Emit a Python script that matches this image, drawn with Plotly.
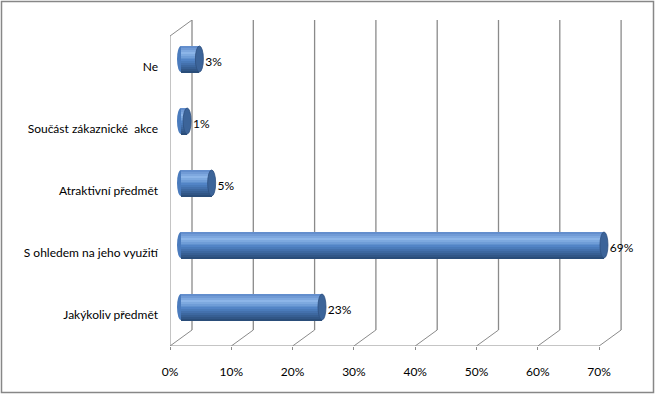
import plotly.graph_objects as go
import numpy as np

# ---- data ----
categories = ["Jakýkoliv předmět", "S ohledem na jeho využití", "Atraktivní předmět",
              "Součást zákaznické  akce", "Ne"]
values = [0.23, 0.69, 0.05, 0.01, 0.03]
value_labels = ["23%", "69%", "5%", "1%", "3%"]
x_ticks = [0.0, 0.1, 0.2, 0.3, 0.4, 0.5, 0.6, 0.7]
x_tick_labels = ["0%", "10%", "20%", "30%", "40%", "50%", "60%", "70%"]

# ---- geometry ----
W, H = 655, 394
ml, mt, mb = 170, 20, 48
px_per_unit_x = 613.0          # pixels per 100%
pw = 455
mr = W - ml - pw
ph = H - mt - mb
n = len(categories)
dx_px, dy_px = 22, 16          # 3D depth offset
px_per_unit_y = 62.0
y_top = n + dy_px / px_per_unit_y
dx = dx_px / px_per_unit_x
dy = dy_px / px_per_unit_y
x_max = pw / px_per_unit_x

centers = np.arange(n) + 0.5
bar_shift_x = dx / 2
bar_shift_y = dy / 2
bar_h = 0.42
cap_w = 8 / px_per_unit_x

grid_col = "#8a8a8a"
font_fam = "Lato, 'Open Sans', sans-serif"

fig = go.Figure()

# cylinder body via horizontal gradient stripes
stops = [(0.0, (39, 72, 114)), (0.45, (79, 130, 196)), (0.75, (140, 181, 232)), (1.0, (92, 136, 200))]
def col_at(t):
    for (t0, c0), (t1, c1) in zip(stops[:-1], stops[1:]):
        if t0 <= t <= t1:
            f = (t - t0) / (t1 - t0)
            return "rgb(%d,%d,%d)" % tuple(int(round(a + (b - a) * f)) for a, b in zip(c0, c1))
    return "rgb(%d,%d,%d)" % stops[-1][1]

n_str = 14
sh = bar_h / n_str
for i in range(n_str):
    t = (i + 0.5) / n_str
    fig.add_trace(go.Bar(
        orientation="h",
        x=values, y=list(centers + bar_shift_y),
        base=[bar_shift_x] * n,
        width=sh * 1.05, offset=-bar_h / 2 + i * sh,
        marker=dict(color=col_at(t), line=dict(width=0)),
        hoverinfo="skip", showlegend=False))

# data labels
fig.add_trace(go.Scatter(
    x=[bar_shift_x + v + cap_w / 2 + 0.003 for v in values],
    y=list(centers + 0.065),
    mode="text", text=value_labels, textposition="middle right",
    textfont=dict(family=font_fam, size=12, color="#000000"),
    cliponaxis=False,
    hoverinfo="skip", showlegend=False))

shapes = []
# back wall verticals + floor diagonals
for xv in x_ticks:
    shapes.append(dict(type="line", xref="x", yref="y", x0=xv + dx, x1=xv + dx, y0=dy, y1=y_top,
                       line=dict(color=grid_col, width=1.3), layer="below"))
    shapes.append(dict(type="line", xref="x", yref="y", x0=xv, x1=xv + dx, y0=0, y1=dy,
                       line=dict(color=grid_col, width=1), layer="below"))
# left wall top diagonal and front axes
shapes.append(dict(type="line", xref="x", yref="y", x0=0, x1=dx, y0=n, y1=y_top,
                   line=dict(color=grid_col, width=1), layer="below"))
shapes.append(dict(type="line", xref="x", yref="y", x0=0, x1=0, y0=0, y1=n,
                   line=dict(color=grid_col, width=1), layer="below"))
shapes.append(dict(type="line", xref="x", yref="y", x0=0, x1=x_ticks[-1], y0=0, y1=0,
                   line=dict(color=grid_col, width=1), layer="below"))
# left axis tick marks
for k in range(n + 1):
    shapes.append(dict(type="line", xref="x", yref="y", xsizemode="pixel", xanchor=0,
                       x0=-5, x1=0, y0=k, y1=k, line=dict(color=grid_col, width=1), layer="below"))
# left rounded ends (under body)
for c in centers:
    yc = c + bar_shift_y
    shapes.append(dict(type="circle", xref="x", yref="y",
                       x0=bar_shift_x - cap_w / 2, x1=bar_shift_x + cap_w / 2,
                       y0=yc - bar_h / 2, y1=yc + bar_h / 2,
                       fillcolor="#4a7bbd", line=dict(width=0), layer="below"))
# right end caps
for c, v in zip(centers, values):
    yc = c + bar_shift_y
    xe = bar_shift_x + v
    shapes.append(dict(type="circle", xref="x", yref="y",
                       x0=xe - cap_w / 2, x1=xe + cap_w / 2,
                       y0=yc - bar_h / 2, y1=yc + bar_h / 2,
                       fillcolor="#3c6499", line=dict(color="#2e5080", width=0.8), layer="above"))
# outer border
shapes.append(dict(type="rect", xref="paper", yref="paper",
                   x0=-(ml - 1.5) / pw, x1=1 + (mr - 1.5) / pw,
                   y0=-(mb - 1.5) / ph, y1=1 + (mt - 1.5) / ph,
                   line=dict(color="#878787", width=1.5), fillcolor="rgba(0,0,0,0)", layer="below"))

fig.update_layout(
    width=W, height=H,
    margin=dict(l=ml, r=mr, t=mt, b=mb),
    paper_bgcolor="#ffffff", plot_bgcolor="rgba(0,0,0,0)",
    barmode="overlay", bargap=0,
    shapes=shapes,
    font=dict(family=font_fam, size=12, color="#000000"),
    xaxis=dict(range=[0, x_max], tickvals=x_ticks, ticktext=x_tick_labels,
               showgrid=False, zeroline=False, showline=False,
               ticks="outside", ticklen=3, tickcolor=grid_col, ticklabelstandoff=12,
               fixedrange=True),
    yaxis=dict(range=[0, y_top], tickvals=list(centers), ticktext=categories,
               showgrid=False, zeroline=False, showline=False,
               ticks="", ticklabelstandoff=11, fixedrange=True),
)

fig.write_html("out.html")
